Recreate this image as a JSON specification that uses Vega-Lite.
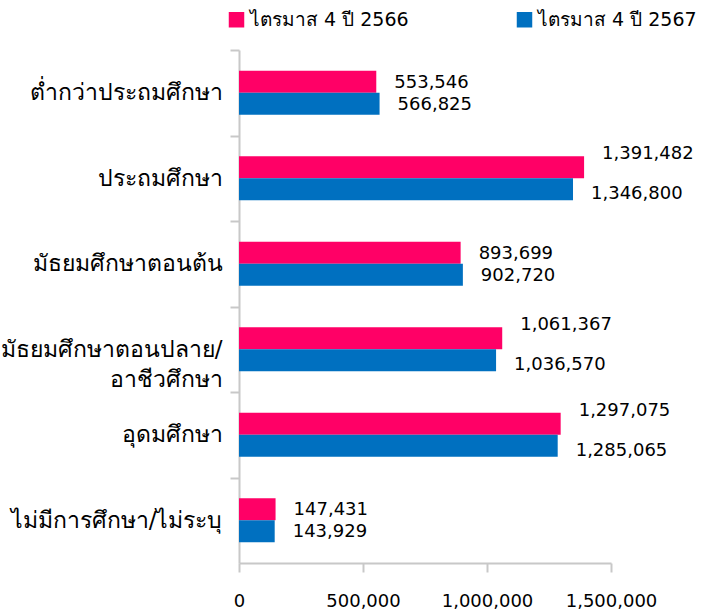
{
  "$schema": "https://vega.github.io/schema/vega-lite/v6.json",
  "autosize": {"type": "none"},
  "padding": {"left": 239, "top": 50, "right": 100, "bottom": 52},
  "width": 372,
  "height": 513,
  "background": "white",
  "config": {
    "view": {"stroke": null},
    "font": "DejaVu Sans",
    "text": {"font": "DejaVu Sans"}
  },
  "data": {
    "values": [
      {"level": "ต่ำกว่าประถมศึกษา", "period": "ไตรมาส 4 ปี 2566", "value": 553546},
      {"level": "ต่ำกว่าประถมศึกษา", "period": "ไตรมาส 4 ปี 2567", "value": 566825},
      {"level": "ประถมศึกษา", "period": "ไตรมาส 4 ปี 2566", "value": 1391482},
      {"level": "ประถมศึกษา", "period": "ไตรมาส 4 ปี 2567", "value": 1346800},
      {"level": "มัธยมศึกษาตอนต้น", "period": "ไตรมาส 4 ปี 2566", "value": 893699},
      {"level": "มัธยมศึกษาตอนต้น", "period": "ไตรมาส 4 ปี 2567", "value": 902720},
      {"level": "มัธยมศึกษาตอนปลาย/อาชีวศึกษา", "period": "ไตรมาส 4 ปี 2566", "value": 1061367},
      {"level": "มัธยมศึกษาตอนปลาย/อาชีวศึกษา", "period": "ไตรมาส 4 ปี 2567", "value": 1036570},
      {"level": "อุดมศึกษา", "period": "ไตรมาส 4 ปี 2566", "value": 1297075},
      {"level": "อุดมศึกษา", "period": "ไตรมาส 4 ปี 2567", "value": 1285065},
      {"level": "ไม่มีการศึกษา/ไม่ระบุ", "period": "ไตรมาส 4 ปี 2566", "value": 147431},
      {"level": "ไม่มีการศึกษา/ไม่ระบุ", "period": "ไตรมาส 4 ปี 2567", "value": 143929}
    ]
  },
  "encoding": {
    "y": {
      "field": "level",
      "type": "nominal",
      "sort": null,
      "title": null,
      "scale": {"paddingInner": 0.485, "paddingOuter": 0.2425},
      "axis": {
        "tickOffset": -42.75,
        "labelOffset": 42.75,
        "domainColor": "#c8c8c8",
        "domainWidth": 2,
        "tickColor": "#c8c8c8",
        "tickWidth": 2,
        "tickSize": 9,
        "labelPadding": 8,
        "labelFontSize": 23,
        "labelColor": "#000000",
        "labelLimit": 300,
        "labelLineHeight": 30,
        "labelExpr": "datum.value == 'มัธยมศึกษาตอนปลาย/อาชีวศึกษา' ? ['มัธยมศึกษาตอนปลาย/', 'อาชีวศึกษา'] : datum.label"
      }
    },
    "yOffset": {"field": "period", "type": "nominal", "scale": {"paddingInner": 0, "paddingOuter": 0}},
    "x": {
      "field": "value",
      "type": "quantitative",
      "title": null,
      "scale": {"domain": [0, 1500000], "nice": false},
      "axis": {
        "values": [0, 500000, 1000000, 1500000],
        "labelExpr": "format(datum.value, ',')",
        "grid": false,
        "domainColor": "#c8c8c8",
        "domainWidth": 2,
        "tickColor": "#c8c8c8",
        "tickWidth": 2,
        "tickSize": 9,
        "labelPadding": 20,
        "labelFontSize": 18,
        "labelColor": "#000000",
        "labelFlush": false
      }
    }
  },
  "layer": [
    {
      "mark": {"type": "bar"},
      "encoding": {
        "color": {
          "field": "period",
          "type": "nominal",
          "scale": {"range": ["#FF0066", "#0070C0"]},
          "legend": {
            "title": null,
            "orient": "none",
            "legendX": -12,
            "legendY": -40,
            "direction": "horizontal",
            "symbolType": "square",
            "symbolSize": 240,
            "symbolStrokeWidth": 0,
            "labelFontSize": 19,
            "labelColor": "#000000",
            "labelOffset": 4,
            "columnPadding": 106,
            "labelLimit": 300
          }
        }
      }
    },
    {
      "mark": {
        "type": "text",
        "align": "left",
        "dx": 18,
        "dy": {"expr": "datum.value > 1000000 ? (datum.period == 'ไตรมาส 4 ปี 2566' ? -13 : 5) : 1"},
        "fontSize": 18,
        "color": "#000000"
      },
      "encoding": {
        "text": {"field": "value", "type": "quantitative", "format": ","}
      }
    }
  ]
}
